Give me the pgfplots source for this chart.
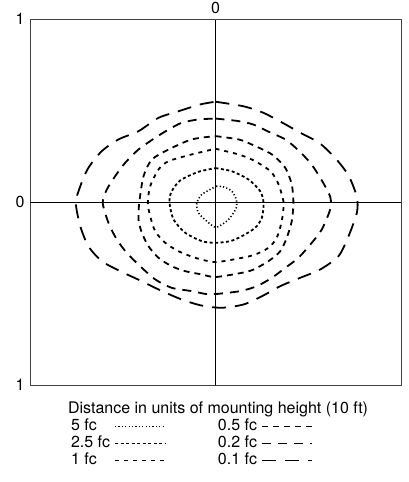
\documentclass[border=0pt]{standalone}
\usepackage{pgfplots}
\pgfplotsset{compat=1.18}
\usepackage{fontspec}
\setmainfont{TeX Gyre Heros}
\begin{document}
\fontsize{16}{18}\selectfont
\begin{tikzpicture}[x=1pt,y=1pt]
\path[use as bounding box] (-30,-97) rectangle (379,385);
\begin{axis}[
  at={(0,0)}, anchor=south west,
  width=371pt, height=366pt, scale only axis,
  xmin=-1, xmax=1, ymin=-1, ymax=1,
  clip=false,
  axis line style={black!75, line width=0.9pt},
  xtick={0}, xticklabels={0}, xticklabel pos=upper,
  xmajorgrids,
  ytick={-1,1}, yticklabels={1,1},
  extra y ticks={0}, extra y tick labels={0},
  extra y tick style={grid=major},
  major grid style={black, line width=0.9pt},
  major tick length=0pt,
  tick label style={font=\fontsize{16}{18}\selectfont},
  /pgf/number format/assume math mode=true,
  legend columns=2,
  legend plot pos=right,
  legend cell align=left,
  legend image code/.code={\draw[#1] (0pt,0pt) -- (50pt,0pt);},
  legend style={at={(axis description cs:0.102,-0.088)}, anchor=north west,
    draw=none, fill=none, font=\fontsize{16}{18}\selectfont,
    nodes={inner sep=0pt, text height=11pt, text depth=3pt},
    row sep=3pt,
    /tikz/every odd column/.append style={column sep=4pt},
    /tikz/every even column/.append style={column sep=52pt}},
  every axis plot/.append style={black, line width=1.8pt, smooth, tension=0.45},
]
% 5 fc
\addplot[dash pattern=on 1.2pt off 2.2pt, line width=1.6pt] coordinates {
(0.004,0.086)(0.043,0.083)(0.088,0.059)(0.112,0.014)(0.112,-0.032)(0.070,-0.096)(0.004,-0.138)(-0.047,-0.105)(-0.092,-0.059)(-0.101,-0.008)(-0.074,0.041)(0.004,0.086)};
\addlegendentry{5 fc}
% 0.5 fc
\addplot[dash pattern=on 6pt off 5pt] coordinates {
(0,0.36)(0.124,0.342)(0.196,0.314)(0.304,0.260)(0.376,0.187)(0.411,0.096)(0.420,-0.004)(0.411,-0.105)(0.384,-0.196)(0.349,-0.269)(0.286,-0.323)(0.205,-0.369)(0.142,-0.387)(0,-0.41)(-0.074,-0.396)(-0.163,-0.378)(-0.236,-0.351)(-0.307,-0.305)(-0.361,-0.242)(-0.397,-0.168)(-0.415,-0.096)(-0.411,-0.004)(-0.388,0.141)(-0.343,0.232)(-0.253,0.287)(-0.128,0.342)(0,0.36)};
\addlegendentry{0.5 fc}
% 2.5 fc
\addplot[dash pattern=on 3pt off 2.5pt] coordinates {
(0,0.185)(0.088,0.168)(0.178,0.123)(0.241,0.059)(0.259,-0.004)(0.25,-0.086)(0.214,-0.141)(0.142,-0.187)(0.079,-0.214)(0,-0.223)(-0.074,-0.214)(-0.163,-0.168)(-0.226,-0.096)(-0.248,-0.004)(-0.238,0.055)(-0.19,0.118)(-0.092,0.165)(0,0.185)};
\addlegendentry{2.5 fc}
% 0.2 fc
\addplot[dash pattern=on 9pt off 7pt] coordinates {
(0,0.456)(0.124,0.442)(0.205,0.423)(0.28,0.387)(0.376,0.342)(0.442,0.287)(0.511,0.214)(0.565,0.132)(0.618,0.03)(0.618,-0.041)(0.573,-0.150)(0.519,-0.223)(0.447,-0.305)(0.376,-0.360)(0.304,-0.414)(0.223,-0.460)(0.133,-0.487)(0,-0.503)(-0.056,-0.502)(-0.128,-0.487)(-0.236,-0.469)(-0.325,-0.423)(-0.406,-0.351)(-0.478,-0.278)(-0.532,-0.205)(-0.577,-0.114)(-0.608,-0.004)(-0.586,0.068)(-0.541,0.141)(-0.487,0.214)(-0.415,0.287)(-0.325,0.351)(-0.253,0.396)(-0.182,0.433)(-0.092,0.451)(0,0.456)};
\addlegendentry{0.2 fc}
% 1 fc
\addplot[dash pattern=on 4pt off 5pt] coordinates {
(0,0.291)(0.124,0.260)(0.196,0.232)(0.259,0.196)(0.304,0.160)(0.340,0.096)(0.367,-0.004)(0.357,-0.105)(0.330,-0.196)(0.286,-0.250)(0.214,-0.287)(0.142,-0.305)(0,-0.328)(-0.109,-0.305)(-0.199,-0.269)(-0.271,-0.223)(-0.325,-0.160)(-0.352,-0.078)(-0.365,-0.004)(-0.352,0.086)(-0.307,0.178)(-0.253,0.223)(-0.128,0.260)(0,0.291)};
\addlegendentry{1 fc}
% 0.1 fc
\addplot[dash pattern=on 14pt off 9pt] coordinates {
(0,0.548)(0.151,0.523)(0.259,0.487)(0.361,0.433)(0.458,0.378)(0.559,0.323)(0.645,0.241)(0.717,0.145)(0.762,0.028)(0.762,-0.059)(0.717,-0.187)(0.663,-0.296)(0.564,-0.369)(0.457,-0.414)(0.349,-0.460)(0.250,-0.515)(0.151,-0.560)(0.034,-0.578)(-0.074,-0.566)(-0.182,-0.533)(-0.307,-0.478)(-0.397,-0.433)(-0.514,-0.378)(-0.613,-0.323)(-0.685,-0.242)(-0.729,-0.132)(-0.753,-0.004)(-0.729,0.086)(-0.685,0.187)(-0.613,0.278)(-0.523,0.342)(-0.415,0.387)(-0.307,0.460)(-0.199,0.496)(-0.083,0.533)(0,0.548)};
\addlegendentry{0.1 fc}
\node[anchor=west, inner sep=0pt, font=\fontsize{16}{18}\selectfont] at (axis description cs:0.102,-0.068) {Distance in units of mounting height (10 ft)};
\end{axis}
\end{tikzpicture}
\end{document}
